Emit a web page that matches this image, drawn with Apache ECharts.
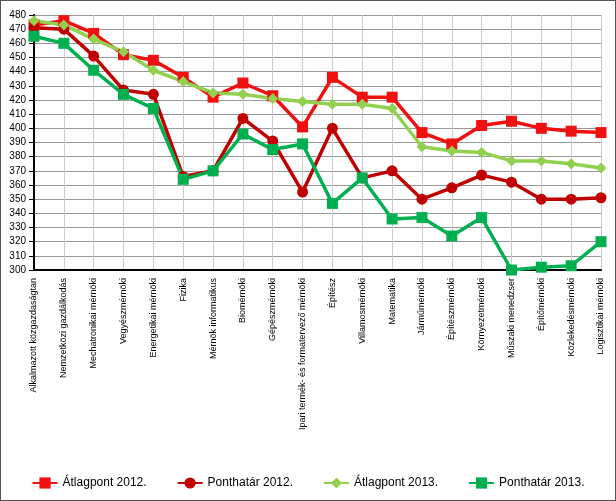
<!DOCTYPE html><html><head><meta charset="utf-8"><script src="https://cdn.jsdelivr.net/npm/echarts@6/dist/echarts.min.js"></script>
<style>body{margin:0}#c{width:614px;height:499px;border:1px solid #555}</style></head><body><div id="c"></div><script>
const categories=["Alkalmazott közgazdaságtan","Nemzetközi gazdálkodás","Mechatronikai mérnöki","Vegyészmérnöki","Energetikai mérnöki","Fizika","Mérnök informatikus","Biomérnöki","Gépészmérnöki","Ipari termék- és formatervező mérnöki","Építész","Villamosmérnöki","Matematika","Járműmérnöki","Építészmérnöki","Környezetmérnöki","Műszaki menedzser","Építőmérnöki","Közlekedésmérnöki","Logisztikai mérnöki"];
const atlag2012=[473,476,467,452,448,436,422,432,423,401,436,422,422,397,389,402,405,400,398,397];
const hatar2012=[471,470,451,427,424,366,370,407,391,355,400,365,370,350,358,367,362,350,350,351];
const atlag2013=[476,473,463,454,441,433,425,424,421,419,417,417,414,387,384,383,377,377,375,372];
const hatar2013=[465,460,441,424,414,364,370,396,385,389,347,365,336,337,324,337,300,302,303,320];
const c=echarts.init(document.getElementById('c'));
const s=(name,data,color,sym,size)=>({name,type:'line',data,symbol:sym,symbolSize:size,itemStyle:{color},lineStyle:{color,width:3.5}});
c.setOption({animation:false,
grid:{left:33,right:14,top:14,bottom:230},
legend:{bottom:6,itemGap:30,textStyle:{fontFamily:'Liberation Sans',fontSize:12,color:'#000'}},
xAxis:{type:'category',data:categories,boundaryGap:false,axisLine:{lineStyle:{color:'#000',width:2}},axisTick:{show:false},
 splitLine:{show:true,lineStyle:{color:'#ccc'}},axisLabel:{rotate:90,interval:0,fontSize:9,color:'#000',fontFamily:'Liberation Sans'}},
yAxis:{type:'value',min:300,max:480,interval:10,axisLine:{show:true,lineStyle:{color:'#000',width:2}},axisTick:{show:true},
 splitLine:{lineStyle:{color:'#999'}},axisLabel:{fontSize:10,color:'#000',fontFamily:'Liberation Sans'}},
series:[s('Átlagpont 2012.',atlag2012,'#f01010','rect',11),s('Ponthatár 2012.',hatar2012,'#c00000','circle',11),
s('Átlagpont 2013.',atlag2013,'#92d050','diamond',11),s('Ponthatár 2013.',hatar2013,'#00b050','rect',11)]});
</script></body></html>
